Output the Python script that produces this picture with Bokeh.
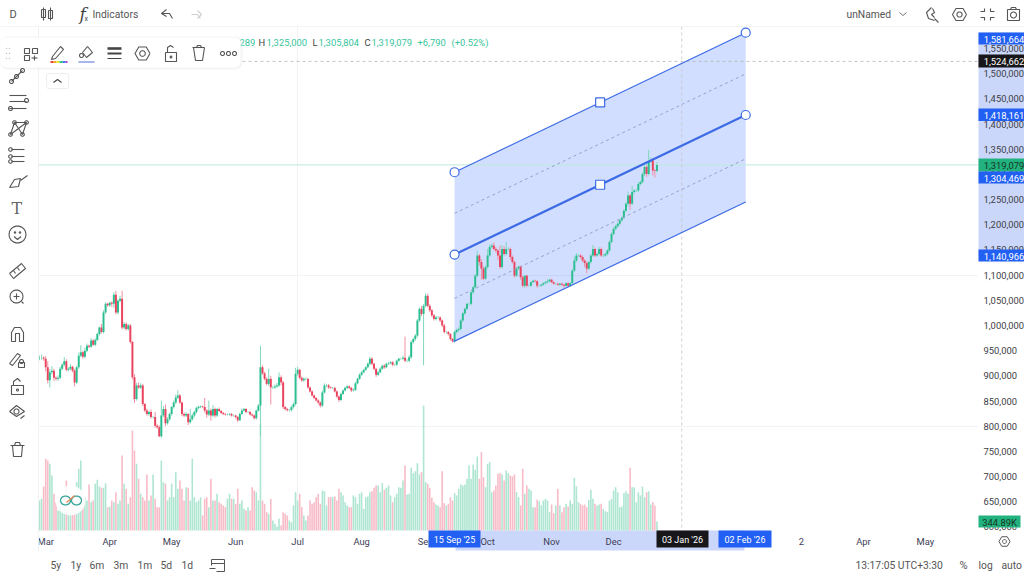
from bokeh.plotting import figure
from bokeh.models import Range1d, FixedTicker, NumeralTickFormatter
from bokeh.core.properties import value
from bokeh.embed import file_html
from bokeh.resources import INLINE
import math

# ---------- data (prices in thousands, volume in K) ----------
closes_k = [
 936,936,934,917,891,907,910,896,894,896,914,922,929,912,914,918,910,887,917,940,
 947,938,950,960,958,970,962,971,983,996,987,1026,1043,1040,1045,1043,1061,1026,1049,1053,
 996,1003,993,1000,967,897,854,881,877,881,844,831,824,828,818,818,801,798,780,821,
 834,806,814,824,838,847,857,861,847,824,821,824,808,814,821,828,836,838,839,838,
 831,823,831,821,834,821,834,830,826,824,823,823,824,821,821,818,812,824,831,834,
 828,828,823,821,816,831,841,917,905,894,884,894,877,877,879,881,897,887,838,834,
 832,832,838,844,904,912,896,891,894,894,877,869,861,856,851,847,841,867,881,881,
 877,876,876,869,859,852,864,871,876,879,876,871,872,885,894,902,907,912,917,924,
 934,924,914,902,907,914,920,917,924,925,927,922,922,930,934,934,936,930,930,937,
 967,973,980,1010,1033,1023,1039,1059,1039,1030,1020,1013,1016,1016,1010,1000,987,987,983,973,
 969,987,991,993,1010,1024,1033,1043,1043,1066,1076,1099,1139,1126,1113,1093,1116,1139,1156,1159,
 1152,1149,1139,1116,1152,1142,1152,1152,1136,1126,1099,1113,1117,1096,1079,1099,1079,1079,1086,1089,
 1088,1079,1079,1081,1084,1086,1088,1091,1086,1083,1083,1081,1083,1081,1079,1084,1079,1084,1109,1129,
 1139,1139,1136,1129,1124,1113,1126,1139,1152,1139,1142,1152,1139,1139,1142,1149,1166,1182,1192,1197,
 1202,1209,1214,1228,1242,1258,1242,1265,1268,1268,1281,1285,1301,1315,1301,1326,1328,1308,1307,1319]
wick_up_k = [
 4,6,3,5,12,6,9,4,3,5, 4,3,8,4,3,5,2,4,3,6, 14,3,6,4,2,5,3,4,3,2, 7,4,3,2,2,3,5,8,3,6,
 16,4,3,3,3,2,6,5,6,4, 3,2,4,3,5,2,10,3,4,30, 6,9,4,3,2,4,6,10,3,2, 3,4,2,20,4,3,3,3,2,2,
 18,3,20,4,8,3,2,3,2,2, 2,2,2,2,2,2,2,3,4,2, 2,2,2,2,2,2,3,43,4,3, 3,20,6,3,4,5,10,4,3,2,
 2,2,3,3,12,6,2,3,3,3, 2,2,2,2,2,2,2,4,4,3, 3,2,2,2,2,2,3,2,3,2, 2,2,3,3,2,3,3,2,2,3,
 4,3,2,2,3,3,2,3,2,2, 2,2,2,2,2,2,4,42,3,4, 3,3,3,3,3,6,4,5,4,3, 3,3,3,3,2,2,3,2,2,2,
 2,3,3,3,3,3,3,2,3,3, 3,3,10,3,6,4,3,13,5,4, 6,4,3,20,8,5,14,3,3,3, 3,3,2,2,3,2,2,3,2,2,
 2,2,2,2,2,2,4,2,2,2, 2,2,2,2,2,2,2,2,3,8, 5,3,3,3,3,3,3,4,8,3, 3,4,3,3,3,3,3,3,3,3,
 3,2,3,3,3,8,3,12,3,3, 4,3,3,5,3,23,6,4,3,6]
wick_dn_k = [
 5,4,4,8,6,14,4,6,3,4, 3,3,3,3,3,3,3,8,3,3, 3,4,3,3,3,2,3,3,2,3, 3,3,3,3,3,6,8,4,4,3,
 4,4,3,3,3,4,8,3,3,3, 4,3,3,4,3,3,4,3,2,3, 3,6,3,3,3,3,3,3,3,4, 3,3,6,3,3,3,3,2,2,2,
 4,6,3,10,3,4,3,2,2,2, 2,2,2,2,2,3,4,2,2,2, 2,2,2,2,3,3,2,60,3,3, 3,4,34,3,3,3,3,6,4,3,
 3,3,3,3,3,4,3,3,3,3, 3,2,2,2,2,4,4,3,2,3, 3,2,2,2,3,4,2,2,2,2, 2,3,2,2,2,2,2,2,2,2,
 3,3,3,4,2,2,2,3,2,2, 2,3,2,2,2,2,2,3,3,3, 3,3,3,3,3,4,102,3,3,3, 3,3,3,3,3,3,3,3,3,3,
 3,3,3,4,3,3,3,2,3,3, 3,3,3,7,22,3,3,3,3,3, 3,4,9,3,3,3,3,3,5,3, 4,3,3,5,3,5,3,2,2,2,
 3,4,2,2,2,2,2,2,2,2, 2,2,3,2,4,2,3,2,3,3, 3,3,3,3,8,9,3,3,3,3, 3,3,3,3,3,3,3,3,3,3,
 3,3,3,3,3,6,12,3,3,3, 3,3,3,4,6,3,3,10,13,3]
volume_k = [
 1152,1216,1690,2752,2688,2560,2112,1408,1088,768,1024,1152,1472,1920,896,1152,1344,1152,1856,2368,
 2688,1408,1280,1152,1766,1088,1152,1792,1946,1690,1638,1638,1818,896,922,1152,1088,1472,1024,1152,
 2880,1792,1600,1024,1280,3840,3072,2560,1984,1408,1280,1152,2150,1152,1344,2150,1216,896,896,2688,
 1856,1792,1152,1280,1792,1280,2240,1600,1920,1600,1152,1664,1638,1152,2752,1280,1088,1152,1280,576,
 1216,1280,896,1984,1152,1152,1408,1088,1024,960,896,1216,1408,1216,1216,1024,1600,1024,1152,832,
 768,896,768,1664,1536,1472,1152,4096,1152,1024,704,640,1216,384,256,154,448,192,704,640,
 576,384,320,960,1472,1152,1408,896,576,384,576,1152,1024,1088,1280,1408,1024,1536,1510,960,
 1280,1280,1280,1306,1152,1600,1472,1344,1088,960,896,896,1344,1280,1024,1408,1472,832,1280,1306,
 1472,1510,1638,1728,1728,1472,1818,1562,1638,1728,1344,1088,1280,1408,1664,1638,1920,2496,1382,1408,
 2406,2202,2278,2586,2150,2240,4800,1856,1792,1638,1254,1088,998,960,896,2278,1050,960,1024,1280,
 1152,1434,1344,1600,1766,1728,1766,1984,2496,1984,2534,2330,2842,1984,3008,2048,1664,2560,2624,1472,
 1536,1728,2176,2202,2150,1920,2304,2202,2112,2074,2150,1472,1280,960,2368,1408,1728,1600,1536,896,
 896,1178,1126,960,1152,1216,1152,704,998,666,960,1600,960,704,896,1024,922,1152,1024,2022,
 1690,1088,1024,960,998,896,1178,1562,1216,1024,960,998,1024,832,742,704,1152,1216,1536,1664,
 1472,896,922,1434,1510,1408,2406,1664,1664,1088,1472,1344,1690,1280,1472,1510,998,1088,960,345]

price_ticks = [600000 + 50000 * k for k in range(20)]
month_ticks = {3: "Mar", 34: "Apr", 64: "May", 95: "Jun", 125: "Jul", 156: "Aug", 187: "Sep",
               217: "Oct", 248: "Nov", 278: "Dec", 369: "2", 399: "Apr", 429: "May"}
channel_x = [201, 271.5, 342]
channel_upper = [1304469, 1443066, 1581664]
channel_mid = [1140966, 1279563, 1418161]
channel_lower = [968000, 1106600, 1245195]
quarter_upper = [1222717, 1499912]
quarter_lower = [1054000, 1331195]
last_price = 1319079
cross_price = 1524662
cross_bar = 311
green, red = "#29bd8f", "#e9445e"
vgreen, vred = "#aee6d2", "#f8bcc8"
blue = "#2160f3"

# ---------- derived ----------
closes = [c * 1000 for c in closes_k]
opens = [closes[0]] + closes[:-1]
highs = [max(o, c) + u * 1000 for o, c, u in zip(opens, closes, wick_up_k)]
lows = [min(o, c) - d * 1000 for o, c, d in zip(opens, closes, wick_dn_k)]
idx = list(range(len(closes)))
up = [c >= o for o, c in zip(opens, closes)]
ccol = [green if u else red for u in up]
wcol = ["#7fd8bc" if u else "#f190a0" for u in up]
vcol = [vgreen if u else vred for u in up]

PER_BAR, X0 = 2.065, 39.0
PER_PX, Y1M = 1986.5, 325.0
x_of_px = lambda px: (px - X0) / PER_BAR
y_of_px = lambda py: 1000000 + (Y1M - py) * PER_PX

p = figure(width=1024, height=579, output_backend="svg", toolbar_location=None,
           x_range=Range1d(x_of_px(0), x_of_px(1024)),
           y_range=Range1d(y_of_px(579), y_of_px(0)),
           y_axis_location="right", min_border=0,
           outline_line_color=None, background_fill_color="white", border_fill_color="white")
p.styles = {"position": "absolute", "left": "0px", "top": "0px"}
p.extra_x_ranges = {"px": Range1d(0, 1024)}
p.extra_y_ranges = {"py": Range1d(579, 0), "vol": Range1d(-49 * 38.4, 530 * 38.4)}
PX = dict(x_range_name="px", y_range_name="py")

# axes
ya = p.yaxis[0]
ya.fixed_location = x_of_px(978)
ya.ticker = FixedTicker(ticks=price_ticks)
ya.formatter = NumeralTickFormatter(format="0,0")
ya.axis_line_color = None
ya.major_tick_line_color = None
ya.minor_tick_line_color = None
ya.major_tick_out = 0
ya.major_tick_in = 0
ya.minor_tick_out = 0
ya.major_label_standoff = 5
ya.major_label_text_font = "Roboto"
ya.major_label_text_font_size = "9.4px"
ya.major_label_text_color = "#3d3d45"

xa = p.xaxis[0]
xa.fixed_location = y_of_px(530)
xa.ticker = FixedTicker(ticks=list(month_ticks))
xa.major_label_overrides = month_ticks
xa.axis_line_color = None
xa.major_tick_line_color = None
xa.minor_tick_line_color = None
xa.major_tick_out = 0
xa.major_tick_in = 0
xa.minor_tick_out = 0
xa.major_label_standoff = 5
xa.major_label_text_font = "Roboto"
xa.major_label_text_font_size = "9.4px"
xa.major_label_text_color = "#3d3d55"

p.ygrid.ticker = FixedTicker(ticks=[800000, 1100000])
p.xgrid.ticker = FixedTicker(ticks=[125])
p.ygrid.grid_line_color = "#f3f3f5"
p.xgrid.grid_line_color = "#f3f3f5"

# axis bands
p.quad(left=[977.5], right=[1024], top=[0], bottom=[579], fill_color="white", line_color=None, **PX)
p.quad(left=[978], right=[1024], top=[32], bottom=[255], fill_color="#cbd7fa", line_color=None, **PX)
p.quad(left=x_of_px(455), right=x_of_px(744), top=y_of_px(530), bottom=y_of_px(550),
       fill_color="#cbd7fa", line_color=None)

# channel
p.patch(channel_x[0::2] + channel_x[0::2][::-1],
        [channel_upper[0], channel_upper[2], channel_lower[2], channel_lower[0]],
        fill_color="#2962ff", fill_alpha=0.21, line_color=None)

# volume
p.vbar(x=idx, top=volume_k, bottom=0, width=0.78, fill_color=vcol, line_color=None, y_range_name="vol")

# guide lines
p.segment(x_of_px(38), last_price, x_of_px(977), last_price, line_color="#bdeadb", line_width=1)
p.segment(x_of_px(38), cross_price, x_of_px(977), cross_price, line_color="#b4b4b4", line_width=0.8, line_dash="3 3")
p.segment(cross_bar, y_of_px(26), cross_bar, y_of_px(530), line_color="#c4c4c4", line_width=0.8, line_dash="3 3")

# candles
p.segment(x0=idx, y0=lows, x1=idx, y1=highs, line_color=wcol, line_width=1)
p.vbar(x=idx, top=[max(a, b) for a, b in zip(opens, closes)], bottom=[min(a, b) for a, b in zip(opens, closes)],
       width=0.95, fill_color=ccol, line_color=None)

# channel lines & handles
line_blue = "#3d6be6"
p.line(channel_x[0::2], [channel_upper[0], channel_upper[2]], line_color=line_blue, line_width=1.2)
p.line([200.5, 342], [channel_lower[0], channel_lower[2]], line_color=line_blue, line_width=1.2)
p.line(channel_x[0::2], [channel_mid[0], channel_mid[2]], line_color=line_blue, line_width=2.2)
p.line(channel_x[0::2], quarter_upper, line_color="#8f9bc8", line_width=0.9, line_dash="3 3")
p.line(channel_x[0::2], quarter_lower, line_color="#8f9bc8", line_width=0.9, line_dash="3 3")
p.scatter([201, 342, 201, 342], [channel_upper[0], channel_upper[2], channel_mid[0], channel_mid[2]],
          size=9, marker="circle", fill_color="white", line_color=line_blue, line_width=1.2)
p.scatter([271.5, 271.5], [channel_upper[1], channel_mid[1]], size=9, marker="square",
          fill_color="white", line_color=line_blue, line_width=1.2)

# ---------- chrome ----------
def T(x, y, s, color="#3d3d45", size="9.4px", align="left", font="Roboto", style="normal"):
    p.text([x], [y], text=[s], text_color=color, text_font_size=size, text_align=align,
           text_baseline="middle", text_font=value(font), text_font_style=style,
           level="overlay", **PX)

def box(l, r, t, b, color, radius=0, alpha=1.0, line=None):
    p.quad(left=[l], right=[r], top=[t], bottom=[b], fill_color=color, fill_alpha=alpha, line_color=line,
           border_radius=radius, level="overlay", **PX)

# white left / top panels
box(0, 38, 68, 579, "white")
box(0, 1024, 0, 26, "white")
box(0, 1024, 551, 579, "white")
p.segment([38], [26], [38], [551], line_color="#f1f1f3", level="overlay", **PX)
p.segment([0], [26], [1024], [26], line_color="#f4f4f6", level="overlay", **PX)

# price tags
tags = [(32, 44, blue, "1,581,664", "white"), (54, 67, "#17171a", "1,524,662", "white"),
        (108, 120.5, blue, "1,418,161", "white"), (158, 171, "#22b27f", "1,319,079", "#16351f"),
        (171, 183, blue, "1,304,469", "white"), (249, 261, blue, "1,140,966", "white")]
for t, b, c, s, tc in tags:
    box(978, 1024, t, b, c)
    T(1003.5, (t + b) / 2 + 0.5, s, color=tc, align="center")
box(978, 1020, 515, 527, "#22b27f")
T(999, 521.5, "344.89K", color="#16351f", align="center")

# date tags
for l, r, c, s in [(428, 480, blue, "15 Sep '25"), (656, 708, "#17171a", "03 Jan '26"), (718, 771, blue, "02 Feb '26")]:
    box(l, r, 530, 547, c)
    T((l + r) / 2, 539.5, s, color="white", align="center", size="9px")

# top bar text
T(9, 13.5, "D", color="#555", size="11px")
T(92, 13.5, "Indicators", color="#555", size="10.3px")
T(846, 13.5, "unNamed", color="#555", size="10.3px")
T(79, 13, "f", color="#444", size="17px", font="DejaVu Serif", style="italic")
T(84, 18, "x", color="#444", size="7px")

# OHLC legend
lgreen = "#36c59c"
T(239, 42, "289", color=lgreen)
T(258, 42, "H", color="#444")
T(266, 42, "1,325,000", color=lgreen)
T(312, 42, "L", color="#444")
T(318, 42, "1,305,804", color=lgreen)
T(364, 42, "C", color="#444")
T(371, 42, "1,319,079", color=lgreen)
T(417, 42, "+6,790", color=lgreen)
T(451, 42, "(+0.52%)", color=lgreen)

# floating toolbar
box(0, 242, 36, 69, "#e9e9ec", radius=7, alpha=0.45)
box(0, 240, 37, 67, "white", radius=6)

# bottom bar
for x, s in [(50, "5y"), (70, "1y"), (89, "6m"), (113, "3m"), (137, "1m"), (160, "5d"), (181, "1d")]:
    T(x, 564.5, s, color="#555", size="10.3px")
T(855, 564.5, "13:17:05 UTC+3:30", color="#555", size="10.3px")
T(959, 565, "%", color="#555", size="11px")
T(978, 564.5, "log", color="#555", size="10.3px")
T(1001, 564.5, "auto", color="#555", size="10.3px")
T(11, 208, "T", color="#666", size="16px", font="DejaVu Serif")

# icons as strokes in screen pixels
xs, ys = [], []
def L(*pts):
    xs.append([a for a, _ in pts]); ys.append([b for _, b in pts])
def C(cx, cy, r, n=18, a0=0, a1=360):
    pts = [(cx + r * math.cos(math.radians(a0 + (a1 - a0) * k / n)), cy + r * math.sin(math.radians(a0 + (a1 - a0) * k / n))) for k in range(n + 1)]
    L(*pts)
def R(l, t, r, b):
    L((l, t), (r, t), (r, b), (l, b), (l, t))
def HEX(cx, cy, r):
    C(cx, cy, r, n=6, a0=0, a1=360)

# top bar icons
L((43, 7), (43, 20)); R(41, 9, 45, 17); L((50, 7), (50, 20)); R(48, 10, 52, 18)
L((161, 13), (166, 9)); L((161, 13), (166, 16)); L((161, 13), (169, 13), (172, 18))
L((931, 7), (926, 12), (928, 18), (934, 20)); L((934, 18), (938, 22)); L((932, 8), (934, 12), (931, 14), (934, 17))
HEX(959, 14, 7); C(959, 14, 2.6)
L((980, 11), (984, 11), (984, 8)); L((990, 8), (990, 11), (994, 11)); L((980, 17), (984, 17), (984, 20)); L((990, 20), (990, 17), (994, 17))
R(1007, 9, 1019, 20); C(1013, 14.5, 3); L((1010, 9), (1011, 7), (1015, 7), (1016, 9))
# floating toolbar icons
R(24, 48, 29, 53); R(32, 48, 37, 53); R(24, 55, 29, 60); L((31, 57.5), (37, 57.5)); L((34, 55), (34, 60))
L((52, 56), (60, 46), (63, 49), (55, 58), (51, 59), (52, 56))
L((82, 52), (87, 46), (92, 52), (86, 57), (82, 52)); C(81, 55, 2)
HEX(142, 53, 7.5); C(142, 53, 2.8)
R(165, 52, 176, 61); L((167, 52), (167, 47), (170, 45), (173, 47)); C(170.5, 56.5, 0.9)
L((192, 47), (204, 47)); L((193, 47), (195, 60), (202, 60), (204, 47)); L((196, 47), (197, 45), (200, 45), (201, 47))
C(222, 53, 2); C(228, 53, 2); C(234, 53, 2)
# left toolbar icons
L((11, 81), (22, 70)); C(11, 81, 2); C(22, 70, 2); C(16, 76, 2)
for yy in (95, 101, 108):
    L((9, yy), (26, yy))
C(26, 100, 2); C(10, 108, 2)
L((10, 134), (14, 122), (22, 134), (26, 122), (14, 122)); L((10, 134), (26, 122)); C(10, 134, 1.8); C(14, 122, 1.8); C(22, 134, 1.8); C(26, 122, 1.8)
L((11, 149), (24, 149)); L((11, 156), (24, 156)); L((11, 161), (24, 161)); C(10, 149, 1.8); C(10, 156, 1.8); C(10, 161, 1.8)
L((9, 187), (14, 179), (20, 178), (18, 186), (9, 187)); L((20, 180), (27, 175))
C(17, 234, 8.5); C(14.5, 232, 0.7); C(19.5, 232, 0.7); L((13.5, 236), (17, 239), (20.5, 236))
L((9, 273), (21, 263), (25, 268), (13, 278), (9, 273)); L((13, 270), (15, 273)); L((17, 267), (19, 270))
C(16, 296, 6.5); L((13, 296), (19, 296)); L((16, 293), (16, 299)); L((21, 301), (23, 303))
L((11, 341), (11, 332), (14, 327), (20, 327), (23, 332), (23, 341), (19, 341), (19, 333), (15, 333), (15, 341), (11, 341))
L((9, 363), (17, 353), (20, 355), (12, 365), (9, 363)); R(18, 362, 24, 367); C(21, 361, 2)
R(11, 385, 23, 394); L((13, 385), (13, 381), (17, 378), (20, 381)); C(17, 389.5, 1)
L((9, 411), (16, 405), (24, 411), (16, 416), (9, 411)); C(16, 411, 2.5); L((20, 418), (24, 415))
L((10, 445), (24, 445)); L((12, 445), (13, 456), (21, 456), (22, 445)); L((14, 445), (15, 442), (19, 442), (20, 445))
p.multi_line(xs, ys, line_color="#555", line_width=1.1, level="overlay", **PX)
# redo (pale)
p.multi_line([[191, 197, 200], [197, 201], [197, 201]], [[14, 14, 18], [10, 14], [18, 14]], line_color="#cfcfd4", line_width=1.1, level="overlay", **PX)
p.multi_line([[899, 902.5, 906]], [[12, 15, 12]], line_color="#777", line_width=1, level="overlay", **PX)
# drag dots
p.scatter([6, 9, 6, 9, 6, 9], [48, 48, 53, 53, 58, 58], size=1.6, marker="circle", fill_color="#c8c8cc", line_color=None, level="overlay", **PX)
# line-width icon
for yy, w in [(48, 2.6), (53, 2), (58, 1)]:
    p.segment([107], [yy], [121], [yy], line_color="#444", line_width=w, level="overlay", **PX)
# rainbow bar, bucket swatch
for x0, x1, c in [(50, 53, "#e6443a"), (53, 56, "#f5a623"), (56, 59, "#f4e23c"), (59, 62, "#36c46a"), (62, 65, "#3a7bf0"), (65, 67, "#a040d8")]:
    box(x0, x1, 60.5, 62.5, c)
box(78, 94, 60.5, 62.5, "#a9b6ee")
# chevron box
box(46, 68, 73, 88, "white", radius=2, line="#eeeef0")
p.multi_line([[53, 57, 61]], [[82, 79, 82]], line_color="#444", line_width=1.1, level="overlay", **PX)
# settings gear & calendar
xs2, ys2 = [], []
def arc(cx, cy, r, a0=0, a1=360, n=6):
    xs2.append([cx + r * math.cos(math.radians(a0 + (a1 - a0) * k / n)) for k in range(n + 1)])
    ys2.append([cy + r * math.sin(math.radians(a0 + (a1 - a0) * k / n)) for k in range(n + 1)])
arc(1004, 541, 5.5); arc(1004, 541, 2, n=12)
xs2.append([211, 211, 224, 224, 216]); ys2.append([565, 559, 559, 571, 571])
xs2.append([211, 224]); ys2.append([563, 563])
xs2.append([209, 215]); ys2.append([568, 568])
p.multi_line(xs2, ys2, line_color="#555", line_width=1, level="overlay", **PX)
# logo
p.circle([70], [500], radius=15, fill_color="white", fill_alpha=0.9, line_color=None, level="overlay", **PX)
xs3, ys3 = [], []
for cx in (65, 76):
    xs3.append([cx + 5 * math.cos(math.radians(20 * k)) for k in range(19)])
    ys3.append([500 + 4.5 * math.sin(math.radians(20 * k)) for k in range(19)])
p.multi_line(xs3, ys3, line_color="#3aa79a", line_width=1.3, level="overlay", **PX)
p.segment([66], [502], [74], [495], line_color="#ef8a5a", line_width=1.3, level="overlay", **PX)

open("out.html", "w").write(file_html(p, INLINE))
